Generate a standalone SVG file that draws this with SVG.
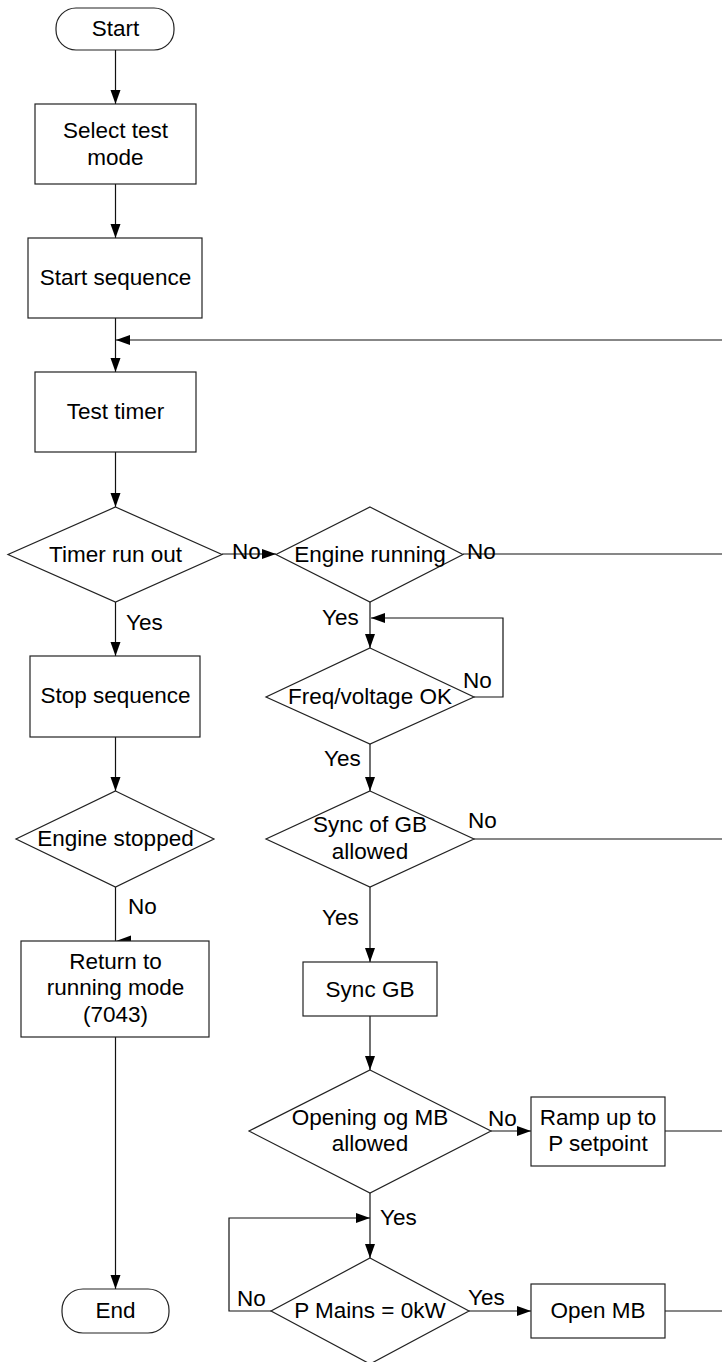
<svg xmlns="http://www.w3.org/2000/svg" width="722" height="1362" viewBox="0 0 722 1362">
<style>
  .shape { fill: #ffffff; stroke: #222222; stroke-width: 1.2; }
  .conn { fill: none; stroke: #111111; stroke-width: 1.2; }
  .t { font-family: "Liberation Sans", Arial, sans-serif; font-size: 22.5px; fill: #000000; }
  .c { text-anchor: middle; }
</style>
<defs>
  <marker id="arr" markerUnits="userSpaceOnUse" markerWidth="15" markerHeight="11" refX="14" refY="5" orient="auto">
    <path d="M0,0 L14,5 L0,10 z" fill="#000000"/>
  </marker>
</defs>
<rect width="722" height="1362" fill="#ffffff"/>

<g id="connectors">
  <line class="conn" x1="115.5" y1="50" x2="115.5" y2="104" marker-end="url(#arr)"/>
  <line class="conn" x1="115.5" y1="184" x2="115.5" y2="238" marker-end="url(#arr)"/>
  <line class="conn" x1="115.5" y1="318" x2="115.5" y2="372" marker-end="url(#arr)"/>
  <line class="conn" x1="722" y1="340" x2="116" y2="340" marker-end="url(#arr)" stroke="#444"/>
  <line class="conn" x1="115.5" y1="452" x2="115.5" y2="507" marker-end="url(#arr)"/>
  <line class="conn" x1="222" y1="554" x2="276" y2="554" marker-end="url(#arr)"/>
  <line class="conn" x1="463" y1="554" x2="722" y2="554" stroke="#444"/>
  <line class="conn" x1="115.5" y1="602" x2="115.5" y2="656" marker-end="url(#arr)"/>
  <line class="conn" x1="370" y1="602" x2="370" y2="648" marker-end="url(#arr)"/>
  <polyline class="conn" points="474,697 503,697 503,618 371,618" marker-end="url(#arr)" stroke="#444"/>
  <line class="conn" x1="115.5" y1="737" x2="115.5" y2="791" marker-end="url(#arr)"/>
  <line class="conn" x1="370" y1="744" x2="370" y2="791" marker-end="url(#arr)"/>
  <line class="conn" x1="474" y1="839" x2="722" y2="839" stroke="#444"/>
  <line class="conn" x1="115.5" y1="887" x2="115.5" y2="941"/>
  <polygon points="116,941 131,935.5 131,946.5" fill="#000000"/>
  <line class="conn" x1="370" y1="887" x2="370" y2="962" marker-end="url(#arr)"/>
  <line class="conn" x1="370" y1="1016" x2="370" y2="1070" marker-end="url(#arr)"/>
  <line class="conn" x1="491" y1="1131" x2="531" y2="1131" marker-end="url(#arr)"/>
  <line class="conn" x1="665" y1="1131" x2="722" y2="1131" stroke="#444"/>
  <line class="conn" x1="370" y1="1193" x2="370" y2="1258" marker-end="url(#arr)"/>
  <polyline class="conn" points="271,1311 229,1311 229,1218 370,1218" marker-end="url(#arr)"/>
  <line class="conn" x1="469" y1="1311" x2="531" y2="1311" marker-end="url(#arr)"/>
  <line class="conn" x1="665" y1="1311" x2="722" y2="1311" stroke="#444"/>
  <line class="conn" x1="115.5" y1="1037" x2="115.5" y2="1289" marker-end="url(#arr)"/>
</g>

<g id="labels">
  <text class="t" x="232" y="559">No</text>
  <text class="t" x="467" y="559">No</text>
  <text class="t" x="126" y="630">Yes</text>
  <text class="t" x="322" y="625">Yes</text>
  <text class="t" x="463" y="688">No</text>
  <text class="t" x="324" y="766">Yes</text>
  <text class="t" x="468" y="828">No</text>
  <text class="t" x="128" y="914">No</text>
  <text class="t" x="322" y="925">Yes</text>
  <text class="t" x="488" y="1126">No</text>
  <text class="t" x="380" y="1225">Yes</text>
  <text class="t" x="237" y="1306">No</text>
  <text class="t" x="468" y="1305">Yes</text>
</g>

<g id="start">
  <rect class="shape" x="56" y="8" width="118" height="42" rx="20" ry="20"/>
  <text class="t c" x="115.5" y="36">Start</text>
</g>
<g id="select-test-mode">
  <rect class="shape" x="35" y="104" width="161" height="80"/>
  <text class="t c" x="115.5" y="138">Select test</text>
  <text class="t c" x="115.5" y="165">mode</text>
</g>
<g id="start-sequence">
  <rect class="shape" x="28" y="238" width="174" height="80"/>
  <text class="t c" x="115.5" y="285">Start sequence</text>
</g>
<g id="test-timer">
  <rect class="shape" x="35" y="372" width="161" height="80"/>
  <text class="t c" x="115.5" y="419">Test timer</text>
</g>
<g id="timer-run-out">
  <polygon class="shape" points="115.5,507 222,554.5 115.5,602 8,554.5"/>
  <text class="t c" x="115.5" y="562">Timer run out</text>
</g>
<g id="engine-running">
  <polygon class="shape" points="370,507 463,554.5 370,602 276,554.5"/>
  <text class="t c" x="370" y="562">Engine running</text>
</g>
<g id="stop-sequence">
  <rect class="shape" x="30" y="656" width="170" height="81"/>
  <text class="t c" x="115.5" y="703">Stop sequence</text>
</g>
<g id="freq-voltage-ok">
  <polygon class="shape" points="370,648 474,697 370,744 266,697"/>
  <text class="t c" x="370" y="704">Freq/voltage OK</text>
</g>
<g id="engine-stopped">
  <polygon class="shape" points="115.5,791 214,839 115.5,887 16,839"/>
  <text class="t c" x="115.5" y="846">Engine stopped</text>
</g>
<g id="sync-of-gb-allowed">
  <polygon class="shape" points="370,791 474,839 370,887 266,839"/>
  <text class="t c" x="370" y="832">Sync of GB</text>
  <text class="t c" x="370" y="859">allowed</text>
</g>
<g id="return-to-running-mode">
  <rect class="shape" x="21" y="941" width="188" height="96"/>
  <text class="t c" x="115.5" y="969">Return to</text>
  <text class="t c" x="115.5" y="995">running mode</text>
  <text class="t c" x="115.5" y="1022">(7043)</text>
</g>
<g id="sync-gb">
  <rect class="shape" x="303" y="962" width="134" height="54"/>
  <text class="t c" x="370" y="997">Sync GB</text>
</g>
<g id="opening-og-mb-allowed">
  <polygon class="shape" points="370,1070 491,1131 370,1193 249,1131"/>
  <text class="t c" x="370" y="1125">Opening og MB</text>
  <text class="t c" x="370" y="1151">allowed</text>
</g>
<g id="ramp-up">
  <rect class="shape" x="531" y="1097" width="134" height="69"/>
  <text class="t c" x="598" y="1125">Ramp up to</text>
  <text class="t c" x="598" y="1151">P setpoint</text>
</g>
<g id="p-mains">
  <polygon class="shape" points="370,1258 469,1311 370,1364 271,1311"/>
  <text class="t c" x="370" y="1318">P Mains = 0kW</text>
</g>
<g id="open-mb">
  <rect class="shape" x="531" y="1284" width="134" height="54"/>
  <text class="t c" x="598" y="1318">Open MB</text>
</g>
<g id="end">
  <rect class="shape" x="62" y="1289" width="107" height="44" rx="21" ry="21"/>
  <text class="t c" x="115.5" y="1318">End</text>
</g>
</svg>
